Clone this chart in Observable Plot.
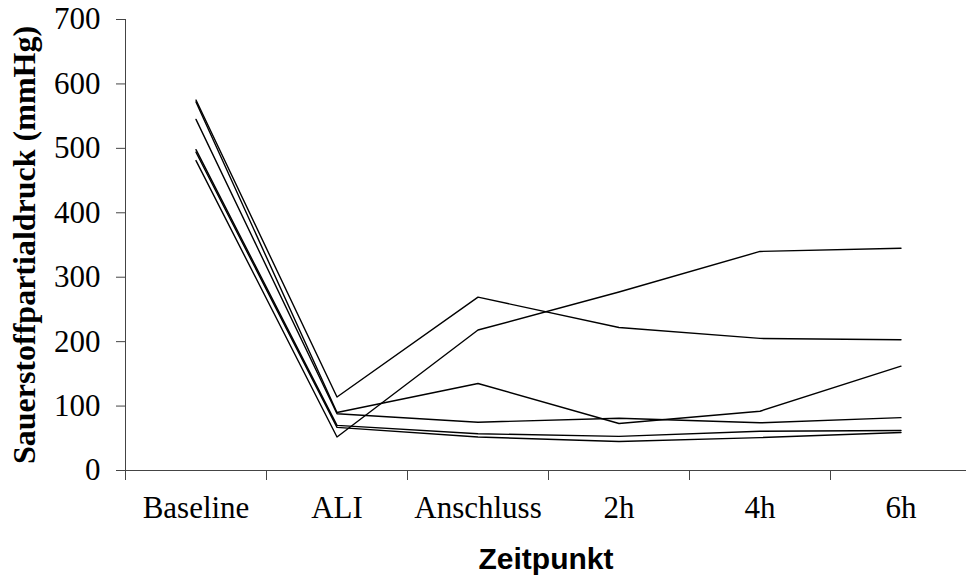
<!DOCTYPE html>
<html>
<head>
<meta charset="utf-8">
<script src="https://cdn.jsdelivr.net/npm/d3@7"></script>
<script src="https://cdn.jsdelivr.net/npm/@observablehq/plot@0.6"></script>
<style>
  html, body { margin: 0; padding: 0; background: #fff; overflow: hidden; }
</style>
</head>
<body>
<div id="chart"></div>
<script>
const categories = ["Baseline", "ALI", "Anschluss", "2h", "4h", "6h"];
const yTicks = [0, 100, 200, 300, 400, 500, 600, 700];
const series1 = [575, 114, 269, 222, 205, 203];
const series2 = [572, 90, 135, 73, 92, 162];
const series3 = [545, 88, 75, 81, 74, 82];
const series4 = [498, 70, 57, 53, 61, 62];
const series5 = [494, 67, 52, 45, 51, 59];
const series6 = [481, 52, 218, 277, 340, 345];
const yTitle = "Sauerstoffpartialdruck (mmHg)";
const xTitle = "Zeitpunkt";

const allSeries = [series1, series2, series3, series4, series5, series6];
const data = allSeries.flatMap((vals, s) => vals.map((v, i) => ({s, i, v})));
const idx = categories.map((_, i) => i);
const bounds = d3.range(categories.length + 1).map(i => i - 0.5);

const chart = Plot.plot({
  width: 966,
  height: 577,
  marginLeft: 125,
  marginRight: 0,
  marginTop: 19,
  marginBottom: 107,
  style: {background: "#fff", color: "#000"},
  x: {type: "linear", domain: [-0.5, categories.length - 0.5], range: [125, 971], axis: null},
  y: {domain: [0, 700], axis: null},
  marks: [
    Plot.axisY({ticks: yTicks, tickSize: 9, tickPadding: 16, fontSize: 31, fontFamily: "Liberation Serif", label: null, stroke: "#444"}),
    Plot.ruleX([-0.5], {y1: 0, y2: 700, stroke: "#444"}),
    Plot.ruleY([0], {stroke: "#444"}),
    Plot.axisX({ticks: bounds, tickSize: 10, tickFormat: () => "", label: null, stroke: "#444"}),
    Plot.axisX({ticks: idx, tickSize: 0, tickPadding: 25, tickFormat: i => categories[i], fontSize: 31, fontFamily: "Liberation Serif", label: null}),
    Plot.line(data, {x: "i", y: "v", z: "s", stroke: "#000", strokeWidth: 1.4}),
    Plot.text([yTitle], {frameAnchor: "left", dx: -101, rotate: -90, textAnchor: "middle", fontSize: 32, fontWeight: "bold", fontFamily: "Liberation Serif", fill: "#000"}),
    Plot.text([xTitle], {frameAnchor: "bottom", dy: 98, lineAnchor: "bottom", textAnchor: "middle", fontSize: 30, fontWeight: "bold", fontFamily: "Liberation Sans", fill: "#000"})
  ]
});
document.getElementById("chart").appendChild(chart);
</script>
</body>
</html>
